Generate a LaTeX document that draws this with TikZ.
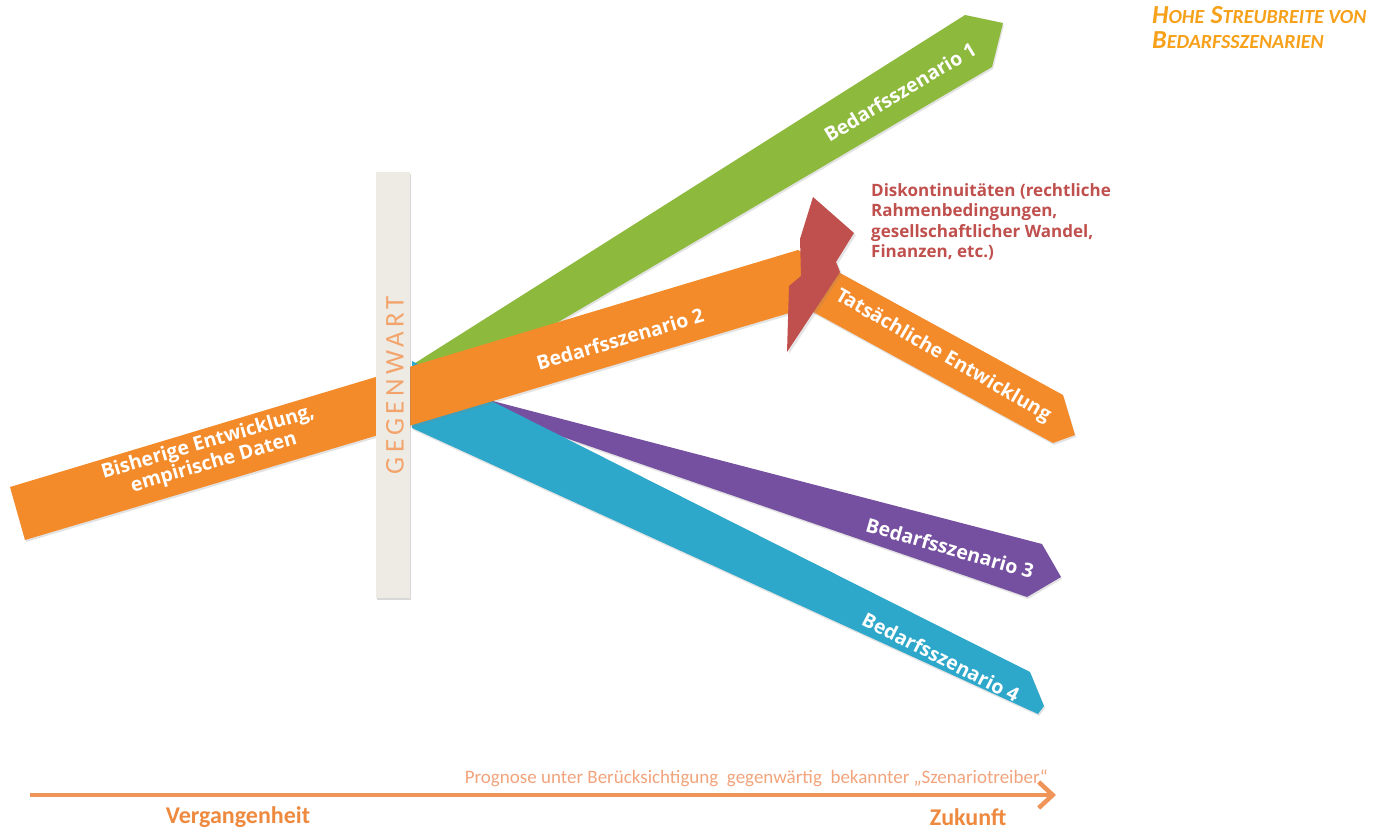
\documentclass[tikz,border=0pt]{standalone}
\usepackage{fontspec}
\setmainfont{Carlito}
\newfontfamily\osb{Open Sans}
\usetikzlibrary{shadows,arrows.meta}
\definecolor{bandorange}{HTML}{F38B2B}
\definecolor{bandgreen}{HTML}{8DB93D}
\definecolor{bandpurple}{HTML}{7650A0}
\definecolor{bandblue}{HTML}{2EA8CA}
\definecolor{boltred}{HTML}{C0504D}
\definecolor{barbeige}{HTML}{EDEBE3}
\definecolor{titleorange}{HTML}{F7A11A}
\definecolor{axisorange}{HTML}{F0955A}
\definecolor{axistext}{HTML}{EE8A40}
\definecolor{progtext}{HTML}{F2A47C}
\definecolor{gegentext}{HTML}{F3A46C}
\tikzset{
  band/.style={drop shadow={opacity=0.22,shadow xshift=1pt,shadow yshift=-2pt}},
  bandlabel/.style={text=white,font={\osb\bfseries\fontsize{19.5}{21}\selectfont},inner sep=0pt,align=center},
  note/.style={text=boltred,font={\osb\bfseries\fontsize{17}{20.5}\selectfont},inner sep=0pt,align=left,anchor=north west},
  axislabel/.style={text=axistext,font={\bfseries\fontsize{24}{26}\selectfont},inner sep=0pt}
}
\newcommand{\fsc}[2]{{\fontsize{26}{28}\selectfont #1}{\fontsize{20}{28}\selectfont #2}}
\begin{document}
\begin{tikzpicture}[x=1pt,y=-1pt]
\useasboundingbox (0,0) rectangle (1380,827);
\fill[white] (0,0) rectangle (1380,827);

% scenario wedges
\fill[bandgreen,band] (412,365) -- (965,15) -- (1003,23) -- (992,67) -- (412,408) -- cycle;
\fill[bandpurple,band] (412,380) -- (1042,544) -- (1061,577) -- (1027,597) -- (412,385) -- cycle;
\fill[bandblue,band] (412,361) -- (1030,672) -- (1044,706) -- (1038,714) -- (412,428) -- cycle;

% main orange band with actual development
\fill[bandorange,band] (10,487) -- (798,250) -- (1063,395) -- (1075,435) -- (1053,443) -- (806,308) -- (25,540) -- cycle;

% lightning
\fill[boltred,drop shadow={opacity=0.2,shadow xshift=2pt,shadow yshift=-2pt}]
  (813,197) -- (854,233) -- (836,262) -- (840,272) -- (787,352) -- (789,286) -- (801,276) -- (800,239) -- cycle;

% GEGENWART bar
\fill[barbeige,drop shadow={opacity=0.3,shadow xshift=1pt,shadow yshift=-2pt}] (376,172) rectangle (410,598);
\node[rotate=90,text=gegentext,inner sep=0pt,font={\addfontfeature{LetterSpace=16}\fontsize{27}{27}\selectfont}] (gegen) at (395,385) {GEGENWART};

% band labels
\node[bandlabel,rotate=31] (s1) at (900,92) {Bedarfsszenario 1};
\node[bandlabel,rotate=16.5] (s2) at (620,339) {Bedarfsszenario 2};
\node[bandlabel,rotate=-30] (ist) at (943,356) {Tatsächliche Entwicklung};
\node[bandlabel,rotate=16.3] (hist) at (211,453) {Bisherige Entwicklung,\\empirische Daten};
\node[bandlabel,rotate=-16] (s3) at (950,548) {Bedarfsszenario 3};
\node[bandlabel,rotate=-27] (s4) at (941,657) {Bedarfsszenario 4};

% discontinuities note
\node[note] (disk) at (871,183) {Diskontinuitäten (rechtliche\\Rahmenbedingungen,\\gesellschaftlicher Wandel,\\Finanzen, etc.)};

% title
\node[text=titleorange,inner sep=0pt,anchor=north west,align=left,font={\bfseries\itshape}] (title) at (1152,6)
  {\fsc{H}{OHE}\hspace{4pt} \fsc{S}{TREUBREITE VON}\\[7pt]\fsc{B}{EDARFSSZENARIEN}};

% time axis
\coordinate (axstart) at (30,795);
\coordinate (axend) at (1056,795);
\draw[axisorange,line width=4.5pt,-{Straight Barb[length=14pt,width=26pt,line width=4.5pt]}] (axstart) -- (axend);
\node[text=progtext,inner sep=0pt,anchor=base east,font={\fontsize{19}{22}\selectfont}] (prog) at (1048,783)
  {Prognose unter Berücksichtigung\ \ gegenwärtig\ \ bekannter „Szenariotreiber“};
\node[axislabel] (past) at (238,817) {Vergangenheit};
\node[axislabel] (future) at (968,817) {Zukunft};
\end{tikzpicture}
\end{document}
